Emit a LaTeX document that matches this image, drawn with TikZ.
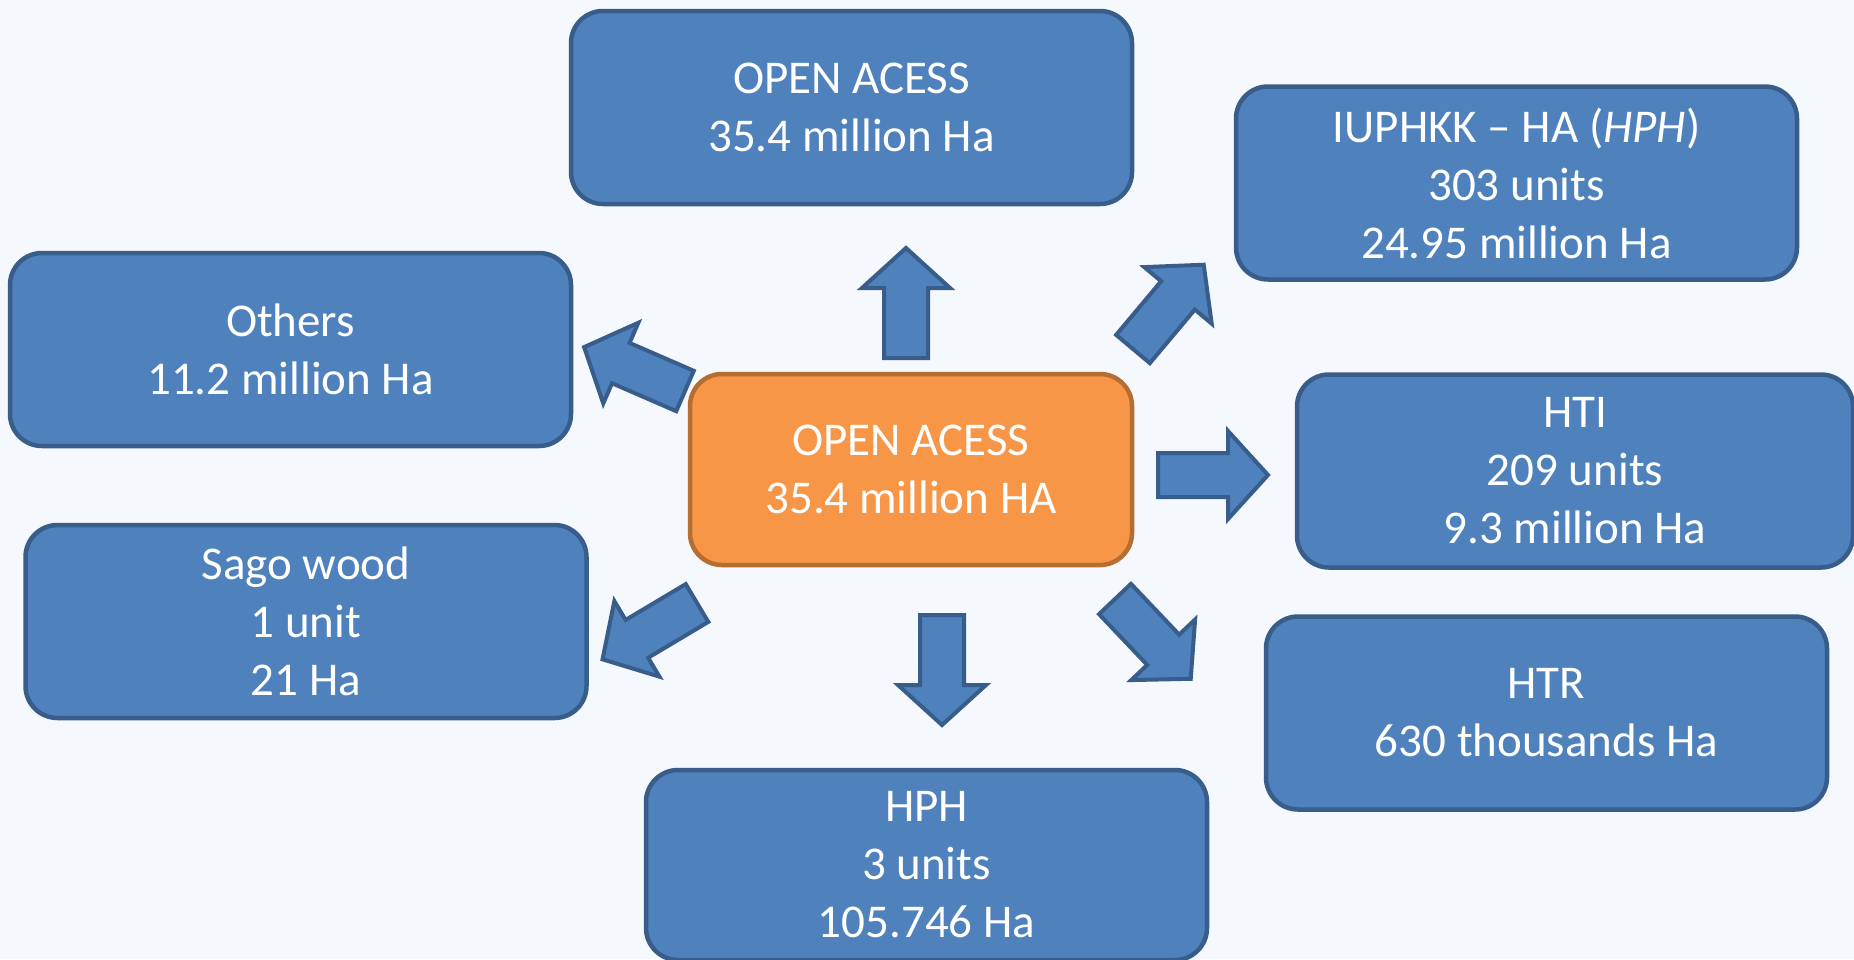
\documentclass[tikz,border=0pt]{standalone}
\usepackage{fontspec}
\setmainfont{Carlito}
\usepackage{tikz}

\definecolor{boxblue}{HTML}{4F81BD}
\definecolor{boxline}{HTML}{385D8A}
\definecolor{boxorange}{HTML}{F79646}
\definecolor{orangeline}{HTML}{B66D31}
\definecolor{backgr}{HTML}{F5F8FC}

\tikzset{
  areabox/.style={draw=boxline, fill=boxblue, line width=4.5pt, rounded corners=32pt,
    text=white, align=center, minimum width=561pt, minimum height=193pt,
    font=\fontsize{47pt}{58pt}\selectfont},
  mainbox/.style={areabox, draw=orangeline, fill=boxorange,
    minimum width=442pt, minimum height=191pt},
  bigarr/.style={draw=boxline, fill=boxblue, line width=4pt, line join=miter}
}

%% Blockpfeil: Schwanzmitte, Winkel
\newcommand\bigarrow[2]{%
  \draw[bigarr, shift={#1}, rotate=#2]
    (0,-22) -- (70,-22) -- (70,-44) -- (110,0) -- (70,44) -- (70,22) -- (0,22) -- cycle;}

\begin{document}
\begin{tikzpicture}[x=1pt, y=-1pt]
   %% Hintergrund
   \fill[backgr] (0,0) rectangle (1854,959);
   \useasboundingbox (0,0) rectangle (1854,959);

   %% Kaesten
   \node[mainbox] (open) at (911,469.5) {OPEN ACESS\\35.4 million HA};
   \node[areabox] (top) at (851.5,107.5) {OPEN ACESS\\35.4 million Ha};
   \node[areabox] (iuphkk) at (1516.5,183) {IUPHKK -- HA (\textit{HPH})\\303 units\\24.95 million Ha};
   \node[areabox] (others) at (290.5,349.5) {Others\\11.2 million Ha};
   \node[areabox, minimum width=556pt] (hti) at (1575,471) {HTI\\209 units\\9.3 million Ha};
   \node[areabox] (sago) at (306,621.5) {Sago wood\\1 unit\\21 Ha};
   \node[areabox] (htr) at (1546.5,713) {HTR\\630 thousands Ha};
   \node[areabox, minimum height=190pt] (hph) at (926.5,865) {HPH\\3 units\\105.746 Ha};

   %% Pfeile
   \bigarrow{(906,358)}{90}
   \bigarrow{(1133,349)}{50}
   \bigarrow{(685,391)}{156.5}
   \bigarrow{(1158,475)}{0}
   \bigarrow{(697,603)}{210.8}
   \bigarrow{(942,615)}{-90}
   \bigarrow{(1115,599)}{-46.5}
\end{tikzpicture}
\end{document}
